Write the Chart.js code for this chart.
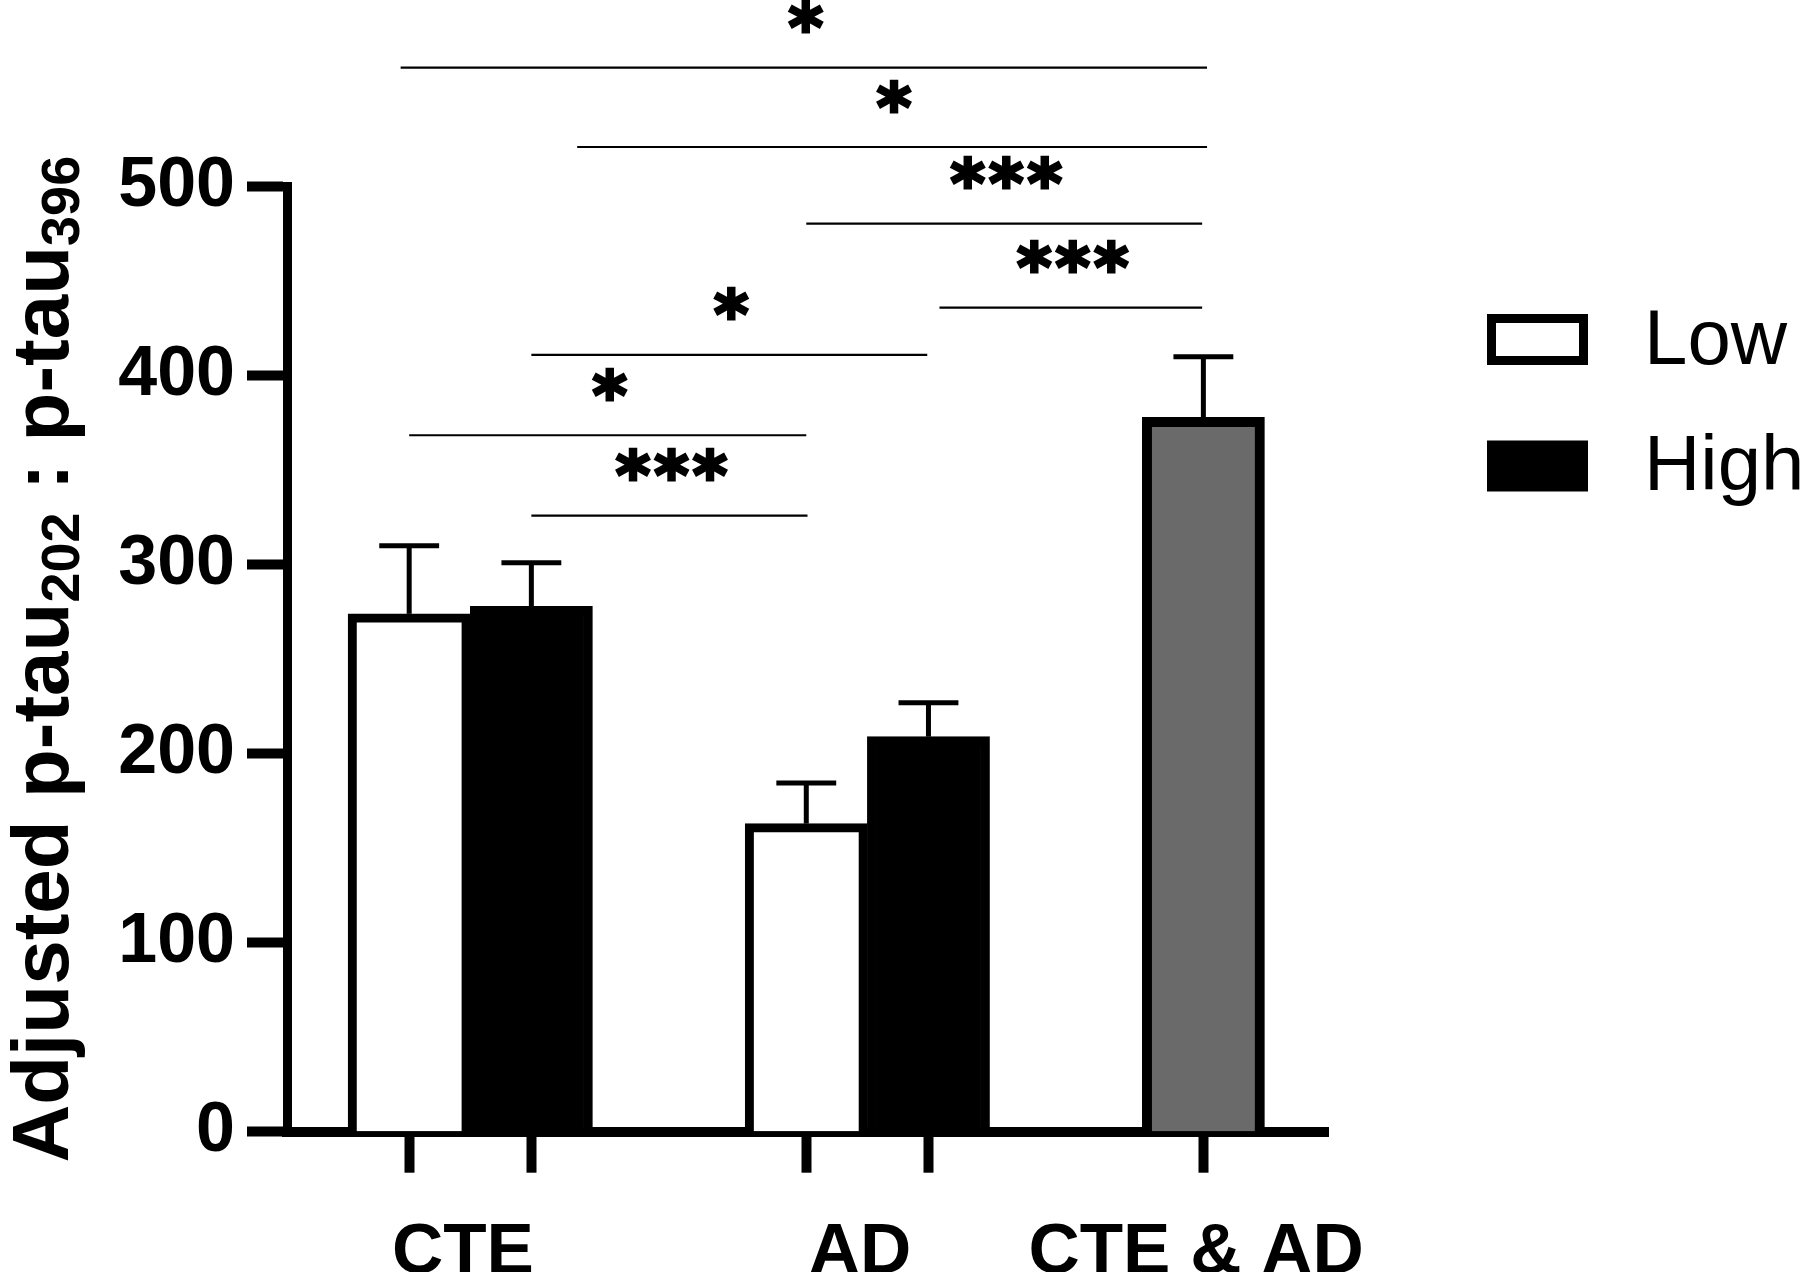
<!DOCTYPE html>
<html><head><meta charset="utf-8">
<script src="https://cdn.jsdelivr.net/npm/chart.js@4.4.1/dist/chart.umd.min.js"></script>
<style>html,body{margin:0;padding:0;background:#fff;} canvas{display:block;}</style>
</head><body>
<canvas id="c" width="1800" height="1272"></canvas>
<script>
// ---------------- data ----------------
const categories   = ['CTE', 'AD', 'CTE & AD'];
const seriesLabels = ['Low', 'High'];
const lowValues    = [274, 163, null];
const highValues   = [278, 209, null];
const mixedValues  = [null, null, 378];
const lowSEM       = [36, 21.5, null];
const highSEM      = [23, 18, null];
const mixedSEM     = [null, null, 32];
const yTickValues  = [0, 100, 200, 300, 400, 500];
const yTitleParts  = [['Adjusted p-tau', false], ['202', true], [' : p-tau', false], ['396', true]];
// significance brackets: x in bar-slot units along the axis, y in data units
const brackets = [
  {x1: -0.07, x2: 6.53, y: 563,   label: '*'},
  {x1: 1.375, x2: 6.53, y: 521,   label: '*'},
  {x1: 3.25,  x2: 6.49, y: 480.5, label: '***'},
  {x1: 4.34,  x2: 6.49, y: 436,   label: '***'},
  {x1: 1.0,   x2: 4.24, y: 411,   label: '*'},
  {x1: 0.0,   x2: 3.25, y: 368.5, label: '*'},
  {x1: 1.0,   x2: 3.26, y: 326,   label: '***'}
];

// ---------------- layout (bar slots) ----------------
const GROUP_GAP = 1.25;
const LABEL_SHIFT = -0.06;
const X_MIN = -1.0, X_MAX = 7.52;
const barPos = {low: [], high: [], mixed: []};
const groupCenters = [];
const allBarPositions = [];
(function () {
  let cursor = 0;
  categories.forEach((c, i) => {
    const start = cursor;
    [['low', lowValues], ['high', highValues], ['mixed', mixedValues]].forEach(([k, arr]) => {
      if (arr[i] != null) { barPos[k][i] = cursor; allBarPositions.push(cursor); cursor += 1; }
    });
    groupCenters.push((start + cursor - 1) / 2);
    cursor += GROUP_GAP;
  });
})();
function points(arr, key) {
  return arr.map((v, i) => v == null ? null : {x: barPos[key][i], y: v}).filter(Boolean);
}
function sems(arr, vals) {
  return vals.map((v, i) => v == null ? null : arr[i]).filter(x => x != null);
}

const FAMILY = "'Liberation Sans', Arial, Helvetica, sans-serif";

// ---------------- plugins ----------------
const errorBars = {
  id: 'errorBars',
  afterDatasetsDraw(chart) {
    const {ctx} = chart;
    const y = chart.scales.y, x = chart.scales.x;
    chart.data.datasets.forEach((ds, di) => {
      const meta = chart.getDatasetMeta(di);
      meta.data.forEach((bar, i) => {
        const v = ds.data[i].y, e = ds.sem[i];
        const top = y.getPixelForValue(v + e);
        const half = (x.getPixelForValue(ds.data[i].x + 0.245) - x.getPixelForValue(ds.data[i].x));
        ctx.save();
        ctx.strokeStyle = '#000';
        ctx.lineWidth = 5;
        ctx.lineCap = 'butt';
        ctx.beginPath();
        ctx.moveTo(bar.x, bar.y);
        ctx.lineTo(bar.x, top);
        ctx.stroke();
        ctx.beginPath();
        ctx.moveTo(bar.x - half, top);
        ctx.lineTo(bar.x + half, top);
        ctx.stroke();
        ctx.restore();
      });
    });
  }
};

const sigBrackets = {
  id: 'sigBrackets',
  afterDraw(chart) {
    const {ctx} = chart;
    const x = chart.scales.x, y = chart.scales.y;
    ctx.save();
    brackets.forEach(b => {
      const px1 = x.getPixelForValue(b.x1), px2 = x.getPixelForValue(b.x2);
      const py = y.getPixelForValue(b.y);
      ctx.strokeStyle = '#000';
      ctx.lineWidth = 2.2;
      ctx.beginPath();
      ctx.moveTo(px1, py);
      ctx.lineTo(px2, py);
      ctx.stroke();
      ctx.font = "bold 66px 'DejaVu Sans', sans-serif";
      ctx.fillStyle = '#000';
      ctx.textAlign = 'center';
      ctx.textBaseline = 'alphabetic';
      try { ctx.letterSpacing = '4px'; } catch (e) {}
      const m = ctx.measureText(b.label);
      const asc = m.actualBoundingBoxAscent, desc = m.actualBoundingBoxDescent;
      const cy = py - 51;
      const tx = (px1 + px2) / 2 + 4, ty = cy + (asc - desc) / 2;
      ctx.lineWidth = 3;
      ctx.lineJoin = 'miter';
      ctx.strokeText(b.label, tx, ty);
      ctx.fillText(b.label, tx, ty);
    });
    ctx.restore();
  }
};

const yTitle = {
  id: 'yTitle',
  afterDraw(chart) {
    const {ctx, chartArea} = chart;
    const mainFont = 'bold 80px ' + FAMILY;
    const subFont = 'bold 54px ' + FAMILY;
    ctx.save();
    let total = 0;
    const widths = yTitleParts.map(([t, sub]) => {
      ctx.font = sub ? subFont : mainFont;
      const w = ctx.measureText(t).width;
      total += w;
      return w;
    });
    const cy = (chartArea.top + chartArea.bottom) / 2;
    ctx.translate(68, cy);
    ctx.rotate(-Math.PI / 2);
    ctx.fillStyle = '#000';
    ctx.textAlign = 'left';
    ctx.textBaseline = 'alphabetic';
    let cx = -total / 2;
    yTitleParts.forEach(([t, sub], i) => {
      ctx.font = sub ? subFont : mainFont;
      ctx.fillText(t, cx, sub ? 11 : 0);
      cx += widths[i];
    });
    ctx.restore();
  }
};

const legendBoxes = {
  id: 'legendBoxes',
  afterDraw(chart) {
    const {ctx, chartArea} = chart;
    const left = chartArea.right + 159;
    ctx.save();
    seriesLabels.forEach((lab, i) => {
      const ds = chart.data.datasets[i];
      const cy = chartArea.top + 152.8 + i * 126.5;
      const w = 101, h = 51, bw = 9;
      ctx.fillStyle = ds.borderColor;
      ctx.fillRect(left, cy - h / 2, w, h);
      ctx.fillStyle = ds.backgroundColor;
      ctx.fillRect(left + bw, cy - h / 2 + bw, w - 2 * bw, h - 2 * bw);
      ctx.fillStyle = '#000';
      ctx.font = 'normal 78px ' + FAMILY;
      ctx.textAlign = 'left';
      ctx.textBaseline = 'alphabetic';
      ctx.fillText(lab, left + 157, cy + 24);
    });
    ctx.restore();
  }
};

// ---------------- chart ----------------
new Chart(document.getElementById('c').getContext('2d'), {
  type: 'bar',
  data: {
    datasets: [
      {label: seriesLabels[0], data: points(lowValues, 'low'), sem: sems(lowSEM, lowValues),
       backgroundColor: '#ffffff', borderColor: '#000000', borderWidth: 9},
      {label: seriesLabels[1], data: points(highValues, 'high'), sem: sems(highSEM, highValues),
       backgroundColor: '#000000', borderColor: '#000000', borderWidth: 9},
      {label: categories[2], data: points(mixedValues, 'mixed'), sem: sems(mixedSEM, mixedValues),
       backgroundColor: '#6a6a6a', borderColor: '#000000', borderWidth: 10}
    ]
  },
  options: {
    responsive: false,
    animation: false,
    devicePixelRatio: 1,
    layout: {padding: {top: 186.7, right: 472, left: 0, bottom: 0}},
    datasets: {bar: {grouped: false, categoryPercentage: 1, barPercentage: 1, borderSkipped: 'start'}},
    plugins: {legend: {display: false}, tooltip: {enabled: false}},
    scales: {
      x: {
        type: 'linear', position: 'bottom', min: X_MIN, max: X_MAX, offset: false, weight: 0,
        grid: {display: true, drawOnChartArea: false, drawTicks: true, tickLength: 41, tickWidth: 10, tickColor: '#000', offset: false},
        border: {display: true, color: '#000', width: 10},
        ticks: {display: false},
        afterBuildTicks: s => { s.ticks = allBarPositions.map(v => ({value: v})); },
        afterFit: s => { s.height = 41; }
      },
      xl: {
        type: 'linear', position: 'bottom', min: X_MIN, max: X_MAX, offset: false, weight: 1,
        grid: {display: false}, border: {display: false},
        ticks: {font: {family: FAMILY, size: 71, weight: 'bold'}, color: '#000', padding: 30,
                autoSkip: false, maxRotation: 0, minRotation: 0,
                callback: (v, i) => categories[i]},
        afterBuildTicks: s => { s.ticks = groupCenters.map(v => ({value: v + LABEL_SHIFT})); },
        afterFit: s => { s.height = 1272 - 1131.7 - 41; }
      },
      y: {
        type: 'linear', position: 'left', min: 0, max: 500,
        grid: {display: true, drawOnChartArea: false, drawTicks: true, tickLength: 40, tickWidth: 10, tickColor: '#000'},
        border: {display: true, color: '#000', width: 9},
        ticks: {font: {family: FAMILY, size: 70, weight: 'bold'}, color: '#000', padding: 12, autoSkip: false},
        afterBuildTicks: s => { s.ticks = yTickValues.map(v => ({value: v})); },
        afterFit: s => { s.width = 287; }
      }
    }
  },
  plugins: [errorBars, sigBrackets, yTitle, legendBoxes]
});
</script>
</body></html>
